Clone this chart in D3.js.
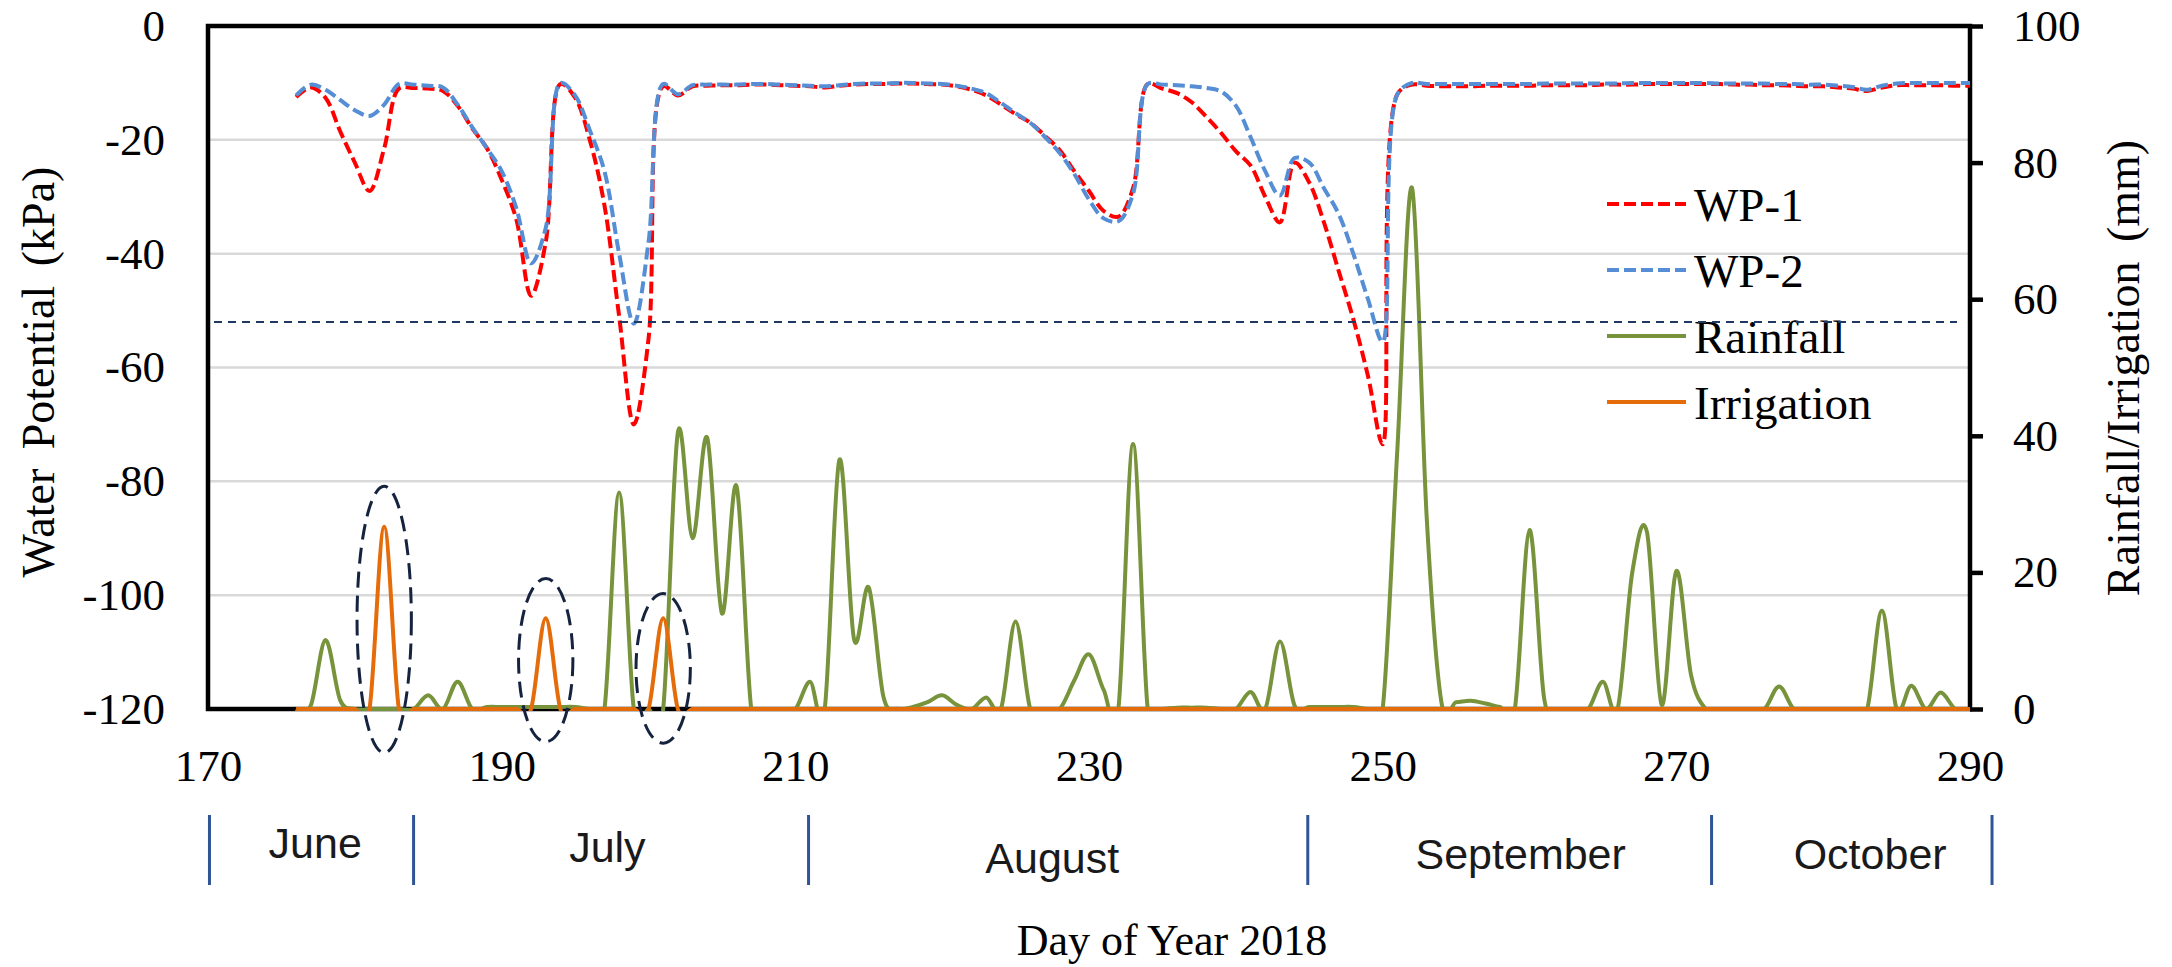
<!DOCTYPE html>
<html>
<head>
<meta charset="utf-8">
<script src="https://cdn.jsdelivr.net/npm/d3@7"></script>
<style>
    body { margin: 0; background: #fff; }
    svg { display: block; }
</style>
</head>
<body>
<div id="chart"></div>
<script>

// Day of year for every daily reading (176 .. 290)
let days = d3.range(176, 291);

// Water potential, sensor 1 (kPa)
let wp1 = [
    -12.5, -10.8, -12.6, -18.5, -24, -29, -21.5, -11, -10.9, -11,        // 176-185
    -11.4, -14, -18, -21.5, -27, -34, -47.4, -38, -10.2, -12.6,          // 186-195
    -20, -31.5, -51, -70, -55, -10.6, -12.2, -10.6, -10.5, -10.4,        // 196-205
    -10.4, -10.3, -10.3, -10.4, -10.5, -10.6, -10.8, -10.5, -10.3, -10.2,
    -10.2, -10.1, -10.1, -10.2, -10.3, -10.6, -11.2, -12.2, -13.8, -15.5,
    -17, -19.3, -21.8, -25.5, -29, -32.5, -33.5, -28.5, -10.2, -11,      // 226-235
    -11.8, -13.4, -16, -18.8, -22, -24.5, -30, -34.5, -24, -27.5,
    -34.5, -43, -51.5, -61.5, -73.5, -12, -10.3, -10.5, -10.6, -10.6,    // 246-255
    -10.6, -10.5, -10.5, -10.5, -10.5, -10.4, -10.4, -10.4, -10.4, -10.3,
    -10.3, -10.3, -10.2, -10.2, -10.2, -10.2, -10.2, -10.2, -10.3, -10.3,
    -10.4, -10.4, -10.5, -10.6, -10.6, -10.8, -11, -11.4, -10.8, -10.4,  // 276-285
    -10.4, -10.4, -10.4, -10.5, -10.5
];

// Water potential, sensor 2 (kPa)
let wp2 = [
    -12.2, -10.3, -11.2, -13, -14.8, -15.8, -13.8, -10.2, -10.3, -10.5,
    -10.8, -13.8, -17.8, -21.5, -25.5, -32, -41.7, -35.5, -10, -12.2,
    -18.3, -25.5, -40, -52.3, -38, -10.2, -12, -10.4, -10.3, -10.3,
    -10.3, -10.2, -10.2, -10.3, -10.4, -10.5, -10.6, -10.4, -10.2, -10.1,
    -10.1, -10, -10, -10.1, -10.2, -10.5, -11, -11.8, -13.5, -15.3,
    -17, -19.5, -22.3, -26, -30.5, -33.8, -34.3, -29.5, -10.2, -10.3,
    -10.4, -10.6, -10.9, -11.5, -14, -19.5, -25.5, -29.8, -23.2, -24,
    -28.5, -33, -40, -48, -55.5, -12, -10, -10.2, -10.2, -10.2,
    -10.2, -10.2, -10.2, -10.2, -10.2, -10.1, -10.1, -10.1, -10.1, -10.1,
    -10.1, -10, -10, -10, -10, -10, -10, -10.1, -10.1, -10.1,
    -10.1, -10.2, -10.2, -10.3, -10.3, -10.5, -10.7, -11.2, -10.5, -10.1,
    -10, -10, -10, -10, -10
];

// Daily rainfall (mm)
let rainfall = [
    0, 0.5, 10.1, 1.3, 0, 0, 0, 0, 0, 2,
    0, 4, 0, 0.3, 0.3, 0.3, 0.3, 0.3, 0.3, 0.3,
    0, 0, 31.7, 0, 0, 0, 40.5, 25, 39.7, 14,
    32.6, 0, 0, 0, 0, 4, 0, 36.5, 10.2, 17.8,
    1.8, 0, 0.3, 1, 2, 0.6, 0, 1.7, 0, 12.8,
    0, 0, 0, 4.2, 8, 2.8, 0, 38.8, 0, 0,
    0.2, 0.2, 0.2, 0, 0, 2.5, 0, 9.9, 0.5, 0.3,
    0.3, 0.3, 0.3, 0, 0, 38, 76.3, 28, 1, 1,
    1.2, 0.8, 0.3, 0, 26.2, 1.5, 0, 0, 0, 4,
    0, 20, 25.9, 0.6, 20.2, 5, 0, 0, 0, 0,
    0, 3.3, 0, 0, 0, 0, 0, 0, 14.4, 0,
    3.4, 0, 2.4, 0, 0
];

// Daily irrigation (mm)
let irrigation = [
    0, 0, 0, 0, 0, 0, 26.7, 0, 0, 0,
    0, 0, 0, 0, 0, 0, 0, 13.3, 0, 0,
    0, 0, 0, 0, 0, 13.3, 0, 0, 0, 0,
    0, 0, 0, 0, 0, 0, 0, 0, 0, 0,
    0, 0, 0, 0, 0, 0, 0, 0, 0, 0,
    0, 0, 0, 0, 0, 0, 0, 0, 0, 0,
    0, 0, 0, 0, 0, 0, 0, 0, 0, 0,
    0, 0, 0, 0, 0, 0, 0, 0, 0, 0,
    0, 0, 0, 0, 0, 0, 0, 0, 0, 0,
    0, 0, 0, 0, 0, 0, 0, 0, 0, 0,
    0, 0, 0, 0, 0, 0, 0, 0, 0, 0,
    0, 0, 0, 0, 0
];

// Tick labels
let xTicks = [170, 190, 210, 230, 250, 270, 290];
let yLeftTicks = [0, -20, -40, -60, -80, -100, -120];
let yRightTicks = [0, 20, 40, 60, 80, 100];

// Threshold line (kPa) and irrigation events circled on the chart
let threshold = -52;
let irrigationDays = [182, 193, 201];
let ringSpans = [[-6.4, 32.6], [-4.8, 19.1], [-5.0, 16.9]];   // mm, bottom/top of each ring

// Month strip under the axis
let monthNames = ["June", "July", "August", "September", "October"];
let monthBounds = [170.1, 184, 210.9, 244.9, 272.4, 291.5];
let monthCenters = [177.3, 197.2, 227.5, 259.4, 283.2];

let seriesNames = ["WP-1", "WP-2", "Rainfall", "Irrigation"];
let seriesColors = ["#ff0000", "#558ed5", "#77933c", "#e46c0a"];


// dimensions of the page and of the plot area
let width = 2172, height = 967;
let plot = {left: 208, right: 1970, top: 26, bottom: 709};
let serif = "'Liberation Serif', 'Times New Roman', serif";
let sans = "'Liberation Sans', Arial, sans-serif";

let SVG = d3.select("#chart")
    .append("svg")
    .attr("width", width)
    .attr("height", height)
    .style("background-color", "#fff");

// scales
let x = d3.scaleLinear().domain([170, 290]).range([plot.left, plot.right]);
let yL = d3.scaleLinear().domain([-120, 0]).range([plot.bottom, plot.top]);
let yR = d3.scaleLinear().domain([0, 100]).range([plot.bottom, plot.top]);

// horizontal gridlines
SVG.append("g")
    .selectAll("line")
    .data(yLeftTicks.filter(d => d > -120 && d < 0))
    .enter()
    .append("line")
    .attr("x1", plot.left)
    .attr("x2", plot.right)
    .attr("y1", d => yL(d))
    .attr("y2", d => yL(d))
    .attr("stroke", "#d9d9d9")
    .attr("stroke-width", 2.5);

// Left axis
let leftAxis = SVG.append("g")
    .attr("transform", "translate(" + plot.left + ",0)")
    .call(d3.axisLeft(yL).tickValues(yLeftTicks).tickSize(0).tickPadding(43).tickFormat(d => String(d)));
leftAxis.select(".domain").remove();

// Bottom axis
let bottomAxis = SVG.append("g")
    .attr("transform", "translate(0," + plot.bottom + ")")
    .call(d3.axisBottom(x).tickValues(xTicks).tickSize(0).tickPadding(40).tickFormat(d => String(d)));
bottomAxis.select(".domain").remove();

// Right axis
let rightAxis = SVG.append("g")
    .attr("transform", "translate(" + plot.right + ",0)")
    .call(d3.axisRight(yR).tickValues(yRightTicks).tickSize(13).tickPadding(30).tickFormat(d => String(d)));
rightAxis.select(".domain").remove();
rightAxis.selectAll(".tick line").attr("stroke", "#000").attr("stroke-width", 4.5);

SVG.selectAll(".tick text")
    .style("font-family", serif)
    .style("font-size", "45px")
    .attr("fill", "#000");

// plot frame
SVG.append("rect")
    .attr("x", plot.left)
    .attr("y", plot.top)
    .attr("width", plot.right - plot.left)
    .attr("height", plot.bottom - plot.top)
    .attr("fill", "none")
    .attr("stroke", "#000")
    .attr("stroke-width", 4.5);

// clip the smoothed lines to the plot area
SVG.append("clipPath")
    .attr("id", "plot-clip")
    .append("rect")
    .attr("x", plot.left)
    .attr("y", plot.top - 6)
    .attr("width", plot.right - plot.left)
    .attr("height", plot.bottom - plot.top + 8);

// smoothed lines, like the spreadsheet's "smoothed line" option
let lineLeft = d3.line()
    .x((d, i) => x(days[i]))
    .y(d => yL(d))
    .curve(d3.curveCatmullRom.alpha(0.5));

let lineRight = d3.line()
    .x((d, i) => x(days[i]))
    .y(d => yR(d))
    .curve(d3.curveCatmullRom.alpha(0));

let lines = SVG.append("g").attr("clip-path", "url(#plot-clip)");

[wp1, wp2].forEach(function (s, k) {
    lines.append("path")
        .datum(s)
        .attr("d", lineLeft)
        .attr("fill", "none")
        .attr("stroke", seriesColors[k])
        .attr("stroke-width", 4)
        .attr("stroke-dasharray", "12,5");
});

[rainfall, irrigation].forEach(function (s, k) {
    lines.append("path")
        .datum(s)
        .attr("d", lineRight)
        .attr("fill", "none")
        .attr("stroke", seriesColors[k + 2])
        .attr("stroke-width", 4)
        .attr("stroke-linejoin", "round");
});

// dashed rings round the irrigation events
SVG.append("g")
    .selectAll("ellipse")
    .data(irrigationDays)
    .enter()
    .append("ellipse")
    .attr("cx", d => x(d))
    .attr("cy", (d, i) => yR((ringSpans[i][0] + ringSpans[i][1]) / 2))
    .attr("rx", d => x(d + 1.85) - x(d))
    .attr("ry", (d, i) => (yR(ringSpans[i][0]) - yR(ringSpans[i][1])) / 2)
    .attr("fill", "none")
    .attr("stroke", "#15233f")
    .attr("stroke-width", 3)
    .attr("stroke-dasharray", "16,8");

// Legend
let legendY = [204, 270, 336, 402];
let legend = SVG.append("g");
seriesNames.forEach(function (name, i) {
    legend.append("line")
        .attr("x1", 1607)
        .attr("x2", 1686)
        .attr("y1", legendY[i])
        .attr("y2", legendY[i])
        .attr("stroke", seriesColors[i])
        .attr("stroke-width", 4)
        .attr("stroke-dasharray", i < 2 ? "12,5" : null);
    legend.append("text")
        .attr("x", 1694)
        .attr("y", legendY[i] + 17)
        .text(name)
        .style("font-family", serif)
        .style("font-size", "47px")
        .attr("fill", "#000");
});

// threshold line
SVG.append("line")
    .attr("x1", plot.left + 6)
    .attr("x2", plot.right - 13)
    .attr("y1", yL(threshold))
    .attr("y2", yL(threshold))
    .attr("stroke", "#1f3864")
    .attr("stroke-width", 2)
    .attr("stroke-dasharray", "8,6");

// Month strip
SVG.append("g")
    .selectAll("line")
    .data(monthBounds)
    .enter()
    .append("line")
    .attr("x1", d => x(d))
    .attr("x2", d => x(d))
    .attr("y1", 815)
    .attr("y2", 885)
    .attr("stroke", "#2f5597")
    .attr("stroke-width", 3);

let monthBase = [858, 862, 873, 869, 869];
SVG.append("g")
    .selectAll("text")
    .data(monthNames)
    .enter()
    .append("text")
    .attr("x", (d, i) => x(monthCenters[i]))
    .attr("y", (d, i) => monthBase[i])
    .attr("text-anchor", "middle")
    .text(d => d)
    .style("font-family", sans)
    .style("font-size", "43px")
    .attr("fill", "#1a1a1a");

// Axis titles
SVG.append("text")
    .attr("x", 1172)
    .attr("y", 955)
    .attr("text-anchor", "middle")
    .text("Day of Year 2018")
    .style("font-family", serif)
    .style("font-size", "44px");

SVG.append("text")
    .attr("transform", "translate(54,372) rotate(-90)")
    .attr("text-anchor", "middle")
    .attr("word-spacing", 8)
    .text("Water Potential (kPa)")
    .style("font-family", serif)
    .style("font-size", "46px");

SVG.append("text")
    .attr("transform", "translate(2139,368) rotate(-90)")
    .attr("text-anchor", "middle")
    .attr("word-spacing", 8)
    .text("Rainfall/Irrigation (mm)")
    .style("font-family", serif)
    .style("font-size", "46px");

</script>
</body>
</html>
